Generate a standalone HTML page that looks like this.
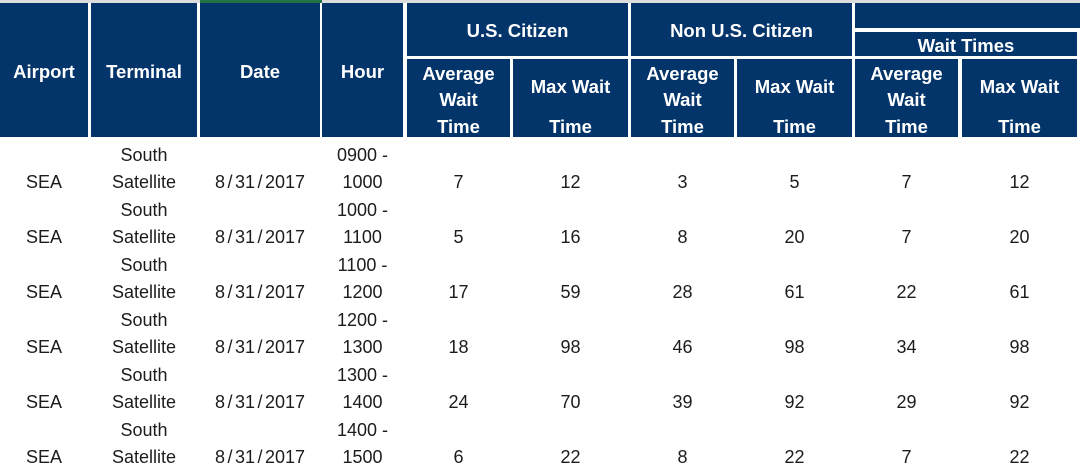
<!DOCTYPE html>
<html>
<head>
<meta charset="utf-8">
<style>
  html,body{margin:0;padding:0;background:#fff;}
  body{width:1080px;height:475px;position:relative;overflow:hidden;font-family:"Liberation Sans","Noto Sans CJK SC",sans-serif;}
  .n{position:absolute;background:#03346a;}
  .t{position:absolute;text-align:center;height:26px;line-height:26px;white-space:nowrap;}
  .hd{color:#fff;font-weight:bold;font-size:18.5px;}
  .bd{color:#1c1c1c;font-size:18px;}
  .s{margin:0 2.5px;}
</style>
</head>
<body>
<!-- top strip -->
<div style="position:absolute;left:0;top:0;width:1080px;height:3px;background:#dcdcdc;"></div>
<div style="position:absolute;left:200px;top:0;width:122px;height:3px;background:#217346;"></div>

<!-- header blocks -->
<div class="n" style="left:0;top:3px;width:88px;height:134px;"></div>
<div class="n" style="left:91px;top:3px;width:106px;height:134px;"></div>
<div class="n" style="left:200px;top:3px;width:120px;height:134px;"></div>
<div class="n" style="left:322px;top:3px;width:81px;height:134px;"></div>
<div class="n" style="left:407px;top:3px;width:221px;height:53px;"></div>
<div class="n" style="left:631px;top:3px;width:221px;height:53px;"></div>
<div class="n" style="left:855px;top:3px;width:225px;height:25px;"></div>
<div class="n" style="left:855px;top:32px;width:222px;height:24px;"></div>
<div class="n" style="left:407px;top:59px;width:103px;height:78px;"></div>
<div class="n" style="left:513px;top:59px;width:115px;height:78px;"></div>
<div class="n" style="left:631px;top:59px;width:103px;height:78px;"></div>
<div class="n" style="left:737px;top:59px;width:115px;height:78px;"></div>
<div class="n" style="left:855px;top:59px;width:103px;height:78px;"></div>
<div class="n" style="left:962px;top:59px;width:115px;height:78px;"></div>

<!-- header text -->
<div class="t hd" style="left:0;width:88px;top:59px;">Airport</div>
<div class="t hd" style="left:91px;width:106px;top:59px;">Terminal</div>
<div class="t hd" style="left:200px;width:120px;top:59px;">Date</div>
<div class="t hd" style="left:322px;width:81px;top:59px;">Hour</div>
<div class="t hd" style="left:407px;width:221px;top:17.5px;">U.S. Citizen</div>
<div class="t hd" style="left:631px;width:221px;top:17.5px;">Non U.S. Citizen</div>
<div class="t hd" style="left:855px;width:222px;top:32.5px;">Wait Times</div>

<div class="t hd" style="left:407px;width:103px;top:61px;">Average</div>
<div class="t hd" style="left:407px;width:103px;top:87px;">Wait</div>
<div class="t hd" style="left:407px;width:103px;top:114px;">Time</div>
<div class="t hd" style="left:513px;width:115px;top:74px;">Max Wait</div>
<div class="t hd" style="left:513px;width:115px;top:114px;">Time</div>

<div class="t hd" style="left:631px;width:103px;top:61px;">Average</div>
<div class="t hd" style="left:631px;width:103px;top:87px;">Wait</div>
<div class="t hd" style="left:631px;width:103px;top:114px;">Time</div>
<div class="t hd" style="left:737px;width:115px;top:74px;">Max Wait</div>
<div class="t hd" style="left:737px;width:115px;top:114px;">Time</div>

<div class="t hd" style="left:855px;width:103px;top:61px;">Average</div>
<div class="t hd" style="left:855px;width:103px;top:87px;">Wait</div>
<div class="t hd" style="left:855px;width:103px;top:114px;">Time</div>
<div class="t hd" style="left:962px;width:115px;top:74px;">Max Wait</div>
<div class="t hd" style="left:962px;width:115px;top:114px;">Time</div>

<!-- body rows -->
<!-- row 1 -->
<div class="t bd" style="left:91px;width:106px;top:142px;">South</div>
<div class="t bd" style="left:322px;width:81px;top:142px;">0900 -</div>
<div class="t bd" style="left:0;width:88px;top:169px;">SEA</div>
<div class="t bd" style="left:91px;width:106px;top:169px;">Satellite</div>
<div class="t bd" style="left:200px;width:120px;top:169px;">8<span class="s">/</span>31<span class="s">/</span>2017</div>
<div class="t bd" style="left:322px;width:81px;top:169px;">1000</div>
<div class="t bd" style="left:407px;width:103px;top:169px;">7</div>
<div class="t bd" style="left:513px;width:115px;top:169px;">12</div>
<div class="t bd" style="left:631px;width:103px;top:169px;">3</div>
<div class="t bd" style="left:737px;width:115px;top:169px;">5</div>
<div class="t bd" style="left:855px;width:103px;top:169px;">7</div>
<div class="t bd" style="left:962px;width:115px;top:169px;">12</div>

<!-- row 2 -->
<div class="t bd" style="left:91px;width:106px;top:197px;">South</div>
<div class="t bd" style="left:322px;width:81px;top:197px;">1000 -</div>
<div class="t bd" style="left:0;width:88px;top:224px;">SEA</div>
<div class="t bd" style="left:91px;width:106px;top:224px;">Satellite</div>
<div class="t bd" style="left:200px;width:120px;top:224px;">8<span class="s">/</span>31<span class="s">/</span>2017</div>
<div class="t bd" style="left:322px;width:81px;top:224px;">1100</div>
<div class="t bd" style="left:407px;width:103px;top:224px;">5</div>
<div class="t bd" style="left:513px;width:115px;top:224px;">16</div>
<div class="t bd" style="left:631px;width:103px;top:224px;">8</div>
<div class="t bd" style="left:737px;width:115px;top:224px;">20</div>
<div class="t bd" style="left:855px;width:103px;top:224px;">7</div>
<div class="t bd" style="left:962px;width:115px;top:224px;">20</div>

<!-- row 3 -->
<div class="t bd" style="left:91px;width:106px;top:252px;">South</div>
<div class="t bd" style="left:322px;width:81px;top:252px;">1100 -</div>
<div class="t bd" style="left:0;width:88px;top:279px;">SEA</div>
<div class="t bd" style="left:91px;width:106px;top:279px;">Satellite</div>
<div class="t bd" style="left:200px;width:120px;top:279px;">8<span class="s">/</span>31<span class="s">/</span>2017</div>
<div class="t bd" style="left:322px;width:81px;top:279px;">1200</div>
<div class="t bd" style="left:407px;width:103px;top:279px;">17</div>
<div class="t bd" style="left:513px;width:115px;top:279px;">59</div>
<div class="t bd" style="left:631px;width:103px;top:279px;">28</div>
<div class="t bd" style="left:737px;width:115px;top:279px;">61</div>
<div class="t bd" style="left:855px;width:103px;top:279px;">22</div>
<div class="t bd" style="left:962px;width:115px;top:279px;">61</div>

<!-- row 4 -->
<div class="t bd" style="left:91px;width:106px;top:307px;">South</div>
<div class="t bd" style="left:322px;width:81px;top:307px;">1200 -</div>
<div class="t bd" style="left:0;width:88px;top:334px;">SEA</div>
<div class="t bd" style="left:91px;width:106px;top:334px;">Satellite</div>
<div class="t bd" style="left:200px;width:120px;top:334px;">8<span class="s">/</span>31<span class="s">/</span>2017</div>
<div class="t bd" style="left:322px;width:81px;top:334px;">1300</div>
<div class="t bd" style="left:407px;width:103px;top:334px;">18</div>
<div class="t bd" style="left:513px;width:115px;top:334px;">98</div>
<div class="t bd" style="left:631px;width:103px;top:334px;">46</div>
<div class="t bd" style="left:737px;width:115px;top:334px;">98</div>
<div class="t bd" style="left:855px;width:103px;top:334px;">34</div>
<div class="t bd" style="left:962px;width:115px;top:334px;">98</div>

<!-- row 5 -->
<div class="t bd" style="left:91px;width:106px;top:362px;">South</div>
<div class="t bd" style="left:322px;width:81px;top:362px;">1300 -</div>
<div class="t bd" style="left:0;width:88px;top:389px;">SEA</div>
<div class="t bd" style="left:91px;width:106px;top:389px;">Satellite</div>
<div class="t bd" style="left:200px;width:120px;top:389px;">8<span class="s">/</span>31<span class="s">/</span>2017</div>
<div class="t bd" style="left:322px;width:81px;top:389px;">1400</div>
<div class="t bd" style="left:407px;width:103px;top:389px;">24</div>
<div class="t bd" style="left:513px;width:115px;top:389px;">70</div>
<div class="t bd" style="left:631px;width:103px;top:389px;">39</div>
<div class="t bd" style="left:737px;width:115px;top:389px;">92</div>
<div class="t bd" style="left:855px;width:103px;top:389px;">29</div>
<div class="t bd" style="left:962px;width:115px;top:389px;">92</div>

<!-- row 6 -->
<div class="t bd" style="left:91px;width:106px;top:417px;">South</div>
<div class="t bd" style="left:322px;width:81px;top:417px;">1400 -</div>
<div class="t bd" style="left:0;width:88px;top:444px;">SEA</div>
<div class="t bd" style="left:91px;width:106px;top:444px;">Satellite</div>
<div class="t bd" style="left:200px;width:120px;top:444px;">8<span class="s">/</span>31<span class="s">/</span>2017</div>
<div class="t bd" style="left:322px;width:81px;top:444px;">1500</div>
<div class="t bd" style="left:407px;width:103px;top:444px;">6</div>
<div class="t bd" style="left:513px;width:115px;top:444px;">22</div>
<div class="t bd" style="left:631px;width:103px;top:444px;">8</div>
<div class="t bd" style="left:737px;width:115px;top:444px;">22</div>
<div class="t bd" style="left:855px;width:103px;top:444px;">7</div>
<div class="t bd" style="left:962px;width:115px;top:444px;">22</div>
</body>
</html>
